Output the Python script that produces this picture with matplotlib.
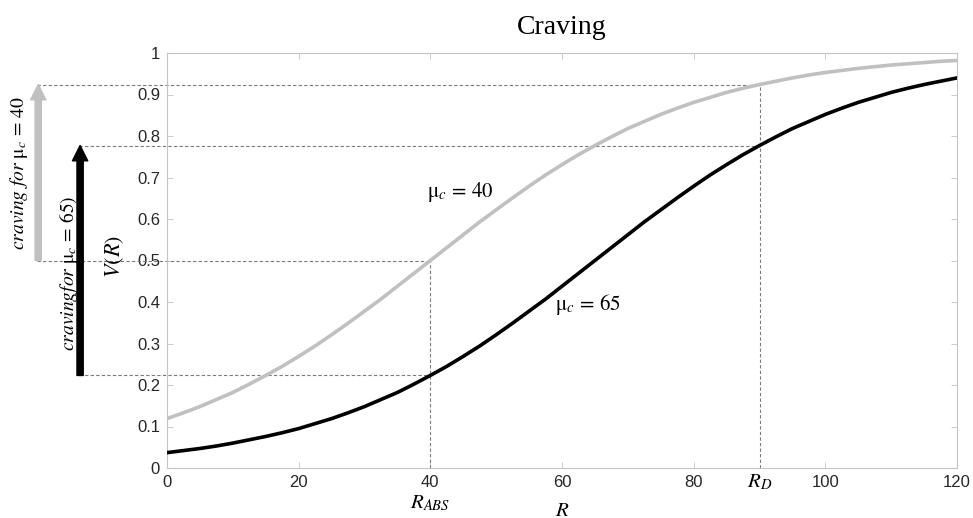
import matplotlib
matplotlib.use("Agg")
import matplotlib.pyplot as plt

# values, every 2.5 units of R
r_vals = [i * 2.5 for i in range(49)]
v_mu40 = [0.119, 0.133, 0.148, 0.165, 0.182, 0.202, 0.223, 0.245, 0.269,
          0.294, 0.321, 0.349, 0.378, 0.407, 0.438, 0.469, 0.500, 0.531,
          0.562, 0.593, 0.622, 0.651, 0.679, 0.706, 0.731, 0.755, 0.777,
          0.798, 0.818, 0.835, 0.852, 0.867, 0.881, 0.893, 0.905, 0.915,
          0.924, 0.932, 0.940, 0.947, 0.953, 0.958, 0.963, 0.967, 0.971,
          0.974, 0.977, 0.980, 0.982]
v_mu65 = [0.037, 0.042, 0.047, 0.053, 0.060, 0.068, 0.076, 0.085, 0.095,
          0.107, 0.119, 0.133, 0.148, 0.165, 0.182, 0.202, 0.223, 0.245,
          0.269, 0.294, 0.321, 0.349, 0.378, 0.407, 0.438, 0.469, 0.500,
          0.531, 0.562, 0.593, 0.622, 0.651, 0.679, 0.706, 0.731, 0.755,
          0.777, 0.798, 0.818, 0.835, 0.852, 0.867, 0.881, 0.893, 0.905,
          0.915, 0.924, 0.932, 0.940]
R_ABS = 40
R_D = 90
x_ticks = [0, 20, 40, 60, 80, 100, 120]
y_ticks = [0, 0.1, 0.2, 0.3, 0.4, 0.5, 0.6, 0.7, 0.8, 0.9, 1]

plt.rcParams["mathtext.fontset"] = "stix"
plt.rcParams["font.family"] = ["Liberation Sans", "DejaVu Sans"]

GRAY = "#c0c0c0"
DASH = "#7a7a7a"
SPINE = "#c4c4c4"
TXT = "#262626"
MATH_FS = 15

fig = plt.figure(figsize=(9.73, 5.18), dpi=100)
ax = fig.add_axes([167 / 973, 1 - 468 / 518, 790 / 973, 415 / 518])

ax.plot(r_vals, v_mu40, color=GRAY, lw=2.6, zorder=3)
ax.plot(r_vals, v_mu65, color="black", lw=2.6, zorder=3)

v40 = dict(zip(r_vals, v_mu40))
v65 = dict(zip(r_vals, v_mu65))
lo65, hi65 = v65[R_ABS], v65[R_D]
lo40, hi40 = v40[R_ABS], v40[R_D]

dash_kw = dict(color=DASH, lw=0.8, ls=(0, (3, 2)), clip_on=False, zorder=2)
# dashed guides run out past the left edge of the axes (x in axes fraction)
far = -0.165
near = -0.112
trans = ax.get_yaxis_transform()
for y, x0, r in [(hi40, far, R_D), (lo40, far, R_ABS),
                 (hi65, near, R_D), (lo65, near, R_ABS)]:
    ax.plot([x0, r / 120], [y, y], transform=trans, **dash_kw)
ax.plot([R_ABS, R_ABS], [0, lo40], **dash_kw)
ax.plot([R_D, R_D], [0, hi40], **dash_kw)

# craving arrows outside the axes
arrow = "simple,head_width=1.1,head_length=1.1,tail_width=0.45"
for xa, lo, hi, col in [(-0.163, lo40, hi40, GRAY), (-0.110, lo65, hi65, "black")]:
    ax.annotate("", xy=(xa, hi), xytext=(xa, lo),
                xycoords=("axes fraction", "data"),
                textcoords=("axes fraction", "data"),
                arrowprops=dict(arrowstyle=arrow, color=col, shrinkA=0, shrinkB=0),
                annotation_clip=False)

ax.text(-0.187, (lo40 + hi40) / 2, r"$craving\ for\ \mathrm{μ}_c\,=\,40$",
        transform=trans, rotation=90, ha="center", va="center", fontsize=14)
ax.text(-0.125, 0.47, r"$cravingfor\ \mathrm{μ}_c\,=\,65)$",
        transform=trans, rotation=90, ha="center", va="center", fontsize=14)

ax.text(44.5, 0.665, r"$\mathrm{μ}_c\,=\,40$", ha="center", va="center", fontsize=MATH_FS)
ax.text(64, 0.393, r"$\mathrm{μ}_c\,=\,65$", ha="center", va="center", fontsize=MATH_FS)

ax.set_xlim(0, 120)
ax.set_ylim(0, 1)
ax.set_xticks(x_ticks)
ax.set_yticks(y_ticks)
ax.set_yticklabels([f"{t:g}" for t in y_ticks])
ax.tick_params(direction="in", length=4, width=0.6, color=SPINE,
               top=True, right=True, labelsize=12, labelcolor=TXT, pad=5)
for s in ax.spines.values():
    s.set_color(SPINE)
    s.set_linewidth(0.8)

ax.text(R_D / 120, -0.034, r"$R_D$", transform=ax.transAxes,
        ha="center", va="center", fontsize=MATH_FS)
ax.text(R_ABS / 120, -0.084, r"$R_{ABS}$", transform=ax.transAxes,
        ha="center", va="center", fontsize=MATH_FS)
ax.text(0.5, -0.102, r"$R$", transform=ax.transAxes,
        ha="center", va="center", fontsize=MATH_FS)
ax.text(-0.066, 0.51, r"$V(R)$", transform=ax.transAxes, rotation=90,
        ha="center", va="center", fontsize=MATH_FS + 1)
ax.set_title("Craving", family="Liberation Serif", fontsize=20, pad=14)

fig.savefig("out.png", dpi=100)
